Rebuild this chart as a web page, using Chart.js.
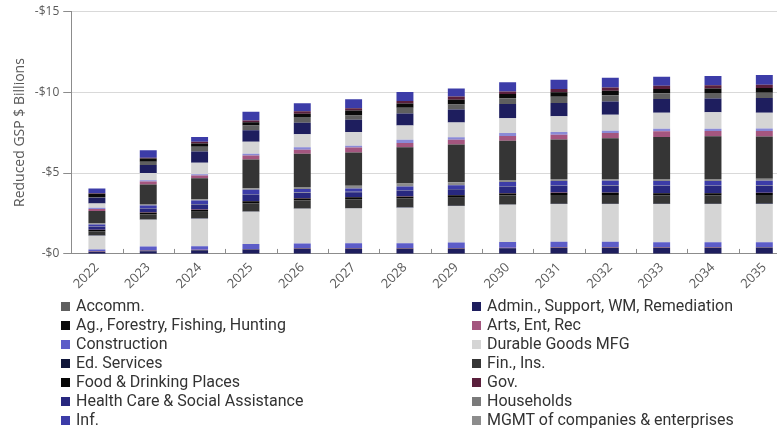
<!DOCTYPE html>
<html>
<head>
<meta charset="utf-8">
<script src="https://cdn.jsdelivr.net/npm/chart.js@4.4.1/dist/chart.umd.min.js"></script>
<style>
  html, body { margin: 0; padding: 0; background: #fff; overflow: hidden; width: 777px; height: 431px; }
  #wrap { position: absolute; left: 0; top: 0; width: 790px; height: 298px; }
  #legend { position: absolute; left: 0; top: 296px; width: 777px; height: 135px; font-family: Roboto, "Open Sans", sans-serif; font-size: 16px; color: #333; }
  .item { position: absolute; white-space: nowrap; line-height: 19px; }
  .box { display: inline-block; width: 9px; height: 9px; margin-right: 6px; vertical-align: 0px; }
</style>
</head>
<body>
<div id="wrap"><canvas id="c"></canvas></div>
<div id="legend"></div>
<script>
// ---------- DATA ----------
const years = ['2022','2023','2024','2025','2026','2027','2028','2029','2030','2031','2032','2033','2034','2035'];
const yTickValues = [0, 5, 10, 15];
const yTickLabels = ['-$0', '-$5', '-$10', '-$15'];

// Series shown in the legend (bottom of the stack upward)
const accomm      = [0.02,0.02,0.02,0.02,0.02,0.02,0.02,0.02,0.02,0.02,0.02,0.02,0.02,0.02];
const admin       = [0.10,0.15,0.20,0.25,0.30,0.30,0.30,0.30,0.33,0.35,0.35,0.35,0.35,0.36];
const agForestry  = [0.02,0.02,0.02,0.02,0.02,0.02,0.02,0.02,0.02,0.02,0.02,0.02,0.02,0.02];
const artsEntRec  = [0.02,0.02,0.02,0.02,0.02,0.02,0.02,0.02,0.02,0.02,0.02,0.02,0.02,0.02];
const construction= [0.12,0.25,0.22,0.30,0.28,0.30,0.30,0.35,0.35,0.35,0.35,0.31,0.31,0.31];
const durableMfg  = [0.85,1.65,1.70,2.00,2.15,2.15,2.20,2.25,2.30,2.32,2.32,2.36,2.36,2.36];
const edServices  = [0.02,0.02,0.02,0.02,0.02,0.02,0.02,0.02,0.02,0.02,0.02,0.02,0.02,0.02];
const finIns      = [0.25,0.30,0.40,0.50,0.50,0.55,0.56,0.50,0.55,0.55,0.55,0.53,0.53,0.53];
const foodDrink   = [0.08,0.12,0.12,0.12,0.12,0.12,0.10,0.14,0.13,0.12,0.13,0.12,0.12,0.12];
const gov         = [0.02,0.02,0.02,0.02,0.02,0.02,0.02,0.02,0.02,0.02,0.02,0.02,0.02,0.02];
const healthCare  = [0.18,0.24,0.32,0.40,0.32,0.30,0.36,0.36,0.40,0.42,0.42,0.44,0.44,0.44];
const households  = [0.02,0.02,0.02,0.02,0.02,0.02,0.02,0.02,0.02,0.02,0.02,0.02,0.02,0.02];
const inf         = [0.12,0.16,0.22,0.27,0.22,0.20,0.23,0.23,0.26,0.28,0.28,0.28,0.28,0.28];
const mgmt        = [0.08,0.10,0.08,0.10,0.13,0.18,0.18,0.18,0.13,0.12,0.08,0.12,0.12,0.12];
// Series further down the (cut-off) legend
const mining      = [0.75,1.20,1.30,1.78,2.05,2.05,2.25,2.33,2.42,2.44,2.55,2.60,2.65,2.62];
const nondurable  = [0.12,0.18,0.17,0.25,0.25,0.30,0.25,0.30,0.30,0.30,0.33,0.35,0.31,0.33];
const otherServ   = [0.08,0.08,0.08,0.10,0.15,0.12,0.20,0.15,0.18,0.16,0.14,0.16,0.14,0.16];
const profSciTech = [0.27,0.45,0.70,0.75,0.80,0.85,0.88,0.92,0.92,0.98,0.98,0.98,1.02,0.98];
const realEstate  = [0.35,0.50,0.70,0.70,0.72,0.75,0.75,0.80,0.88,0.82,0.82,0.86,0.86,0.90];
const retail      = [0.05,0.20,0.30,0.30,0.35,0.27,0.35,0.30,0.35,0.39,0.39,0.35,0.33,0.33];
const transport   = [0.20,0.20,0.20,0.20,0.20,0.30,0.27,0.30,0.27,0.27,0.27,0.27,0.29,0.29];
const utilities   = [0.03,0.05,0.10,0.10,0.15,0.15,0.15,0.20,0.15,0.20,0.20,0.20,0.20,0.20];
const wholesale   = [0.30,0.45,0.30,0.55,0.50,0.55,0.55,0.50,0.57,0.57,0.60,0.55,0.57,0.60];

const seriesNames = ['Accomm.','Admin., Support, WM, Remediation','Ag., Forestry, Fishing, Hunting','Arts, Ent, Rec',
  'Construction','Durable Goods MFG','Ed. Services','Fin., Ins.','Food & Drinking Places','Gov.',
  'Health Care & Social Assistance','Households','Inf.','MGMT of companies & enterprises',
  'Mining','Nondurable Goods MFG','Other Services','Prof., Sci., Tech.','Real Estate','Retail Trade',
  'Transp. & Warehousing','Utilities','Wholesale Trade'];
const seriesValues = [accomm, admin, agForestry, artsEntRec, construction, durableMfg, edServices, finIns,
  foodDrink, gov, healthCare, households, inf, mgmt, mining, nondurable, otherServ, profSciTech,
  realEstate, retail, transport, utilities, wholesale];
const legendCount = 14;

// ---------- STYLE ----------
const seriesColors = ['#5f5f5f','#1e1e5e','#0a0a0a','#a4567f','#5c5cc8','#d5d5d5','#10163a','#353535',
  '#060606','#5a1f3c','#28287f','#7a7a7a','#3c3ca8','#8c8c8c',
  '#353535','#a4567f','#8a8ad6','#d5d5d5','#1e1e5e','#5f5f5f','#0a0a0a','#5a1f3c','#3c3ca8'];

const datasets = seriesNames.map((n, i) => ({
  label: n,
  data: seriesValues[i],
  backgroundColor: seriesColors[i],
  borderWidth: 0,
  categoryPercentage: 1,
  barPercentage: 0.33
}));

const innerTicks = {
  id: 'innerTicks',
  afterDraw(chart) {
    const xs = chart.scales.x, ys = chart.scales.y, ctx = chart.ctx;
    ctx.save();
    ctx.strokeStyle = '#8c8c8c';
    ctx.lineWidth = 1;
    for (let i = 1; i < years.length; i++) {
      const p = Math.round((xs.getPixelForValue(i - 1) + xs.getPixelForValue(i)) / 2);
      ctx.beginPath();
      ctx.moveTo(p + 0.5, ys.bottom);
      ctx.lineTo(p + 0.5, ys.bottom - 5);
      ctx.stroke();
    }
    ctx.restore();
  }
};

new Chart(document.getElementById('c'), {
  type: 'bar',
  data: { labels: years, datasets },
  plugins: [innerTicks],
  options: {
    responsive: true,
    maintainAspectRatio: false,
    animation: false,
    layout: { padding: { top: 2, right: 0, left: 8, bottom: 0 } },
    plugins: { legend: { display: false }, tooltip: { enabled: false } },
    scales: {
      x: {
        stacked: true,
        grid: { display: false, drawTicks: false },
        border: { display: true, color: '#8c8c8c' },
        ticks: { color: '#595959', font: { family: 'Open Sans', size: 13 }, maxRotation: 45, minRotation: 45, padding: 6 }
      },
      y: {
        stacked: true,
        min: 0, max: 15,
        afterBuildTicks(scale) { scale.ticks = yTickValues.map(v => ({ value: v })); },
        grid: { color: '#d9d9d9', tickColor: '#8c8c8c', tickLength: 8 },
        border: { display: true, color: '#8c8c8c' },
        ticks: {
          color: '#595959', font: { family: 'Open Sans', size: 12 }, padding: 4,
          callback: (v) => yTickLabels[yTickValues.indexOf(v)]
        },
        title: { display: true, text: 'Reduced GSP $ Billions', color: '#595959', font: { family: 'Open Sans', size: 14 }, padding: { bottom: 2 } }
      }
    }
  }
});

// HTML legend built from the datasets (original legend is cut off after 14 entries)
const legendEl = document.getElementById('legend');
for (let i = 0; i < legendCount; i++) {
  const col = i % 2, row = Math.floor(i / 2);
  const div = document.createElement('div');
  div.className = 'item';
  div.style.left = (col === 0 ? 61 : 472) + 'px';
  div.style.top = (row * 19) + 'px';
  const b = document.createElement('span');
  b.className = 'box';
  b.style.background = seriesColors[i];
  div.appendChild(b);
  div.appendChild(document.createTextNode(seriesNames[i]));
  legendEl.appendChild(div);
}
</script>
</body>
</html>
